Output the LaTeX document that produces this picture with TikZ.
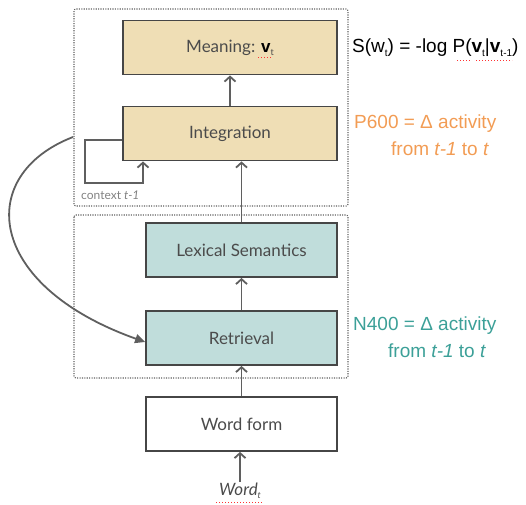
\documentclass[tikz,border=0pt]{standalone}
\usepackage{fontspec}
\setmainfont{Lato}
\newfontfamily\arial{Liberation Sans}
\usetikzlibrary{arrows.meta}
\definecolor{tanfill}{RGB}{239,222,181}
\definecolor{tealfill}{RGB}{192,221,219}
\definecolor{boxline}{RGB}{70,70,70}
\definecolor{txtgray}{RGB}{75,75,75}
\definecolor{arrgray}{RGB}{95,95,95}
\definecolor{dotgray}{RGB}{95,95,95}
\definecolor{orangetxt}{RGB}{242,156,84}
\definecolor{tealtxt}{RGB}{60,160,152}
\begin{document}
\begin{tikzpicture}[x=1pt,y=-1pt,
  box/.style={draw=boxline,line width=1.8pt,inner sep=0pt,minimum height=54pt,text=txtgray,font=\fontsize{17}{19}\selectfont},
  tanbox/.style={box,fill=tanfill,minimum width=214pt},
  tealbox/.style={box,fill=tealfill,minimum width=191pt},
  whitebox/.style={box,fill=white,minimum width=191pt},
  arr/.style={draw=arrgray,line width=1.8pt,-{Straight Barb[length=5pt,width=11pt,line width=1.8pt]}},
  dotbox/.style={draw=dotgray,line width=1.1pt,dash pattern=on 1.1pt off 1.3pt,rounded corners=2pt},
  squig/.style={draw=red!80,line width=1pt,dotted},
  righttxt/.style={anchor=west,inner sep=0pt,font=\arial\fontsize{19}{21}\selectfont}
]
\useasboundingbox (0,0) rectangle (526,504);

% dotted group boxes
\draw[dotbox] (74,9) rectangle (348,206);
\draw[dotbox] (74,215) rectangle (348,378);

% boxes
\node[tanbox] (meaning) at (230,47.5) {Meaning: {\arial\bfseries\color{black}v}\raisebox{-0.35ex}{\fontsize{9}{9}\selectfont t}};
\node[tanbox] (integ) at (230,133.5) {Integration};
\node[tealbox] (lex) at (241.5,250) {Lexical Semantics};
\node[tealbox] (ret) at (241.5,338) {Retrieval};
\node[whitebox] (wf) at (241.5,424) {Word form};
\node[inner sep=1pt,text=txtgray,font=\fontsize{17}{18}\selectfont] (word) at (240,491) {\textit{Word}\raisebox{-0.4ex}{\fontsize{9}{9}\selectfont\textit{t}}};

% arrows
\draw[arr] (integ.north) -- (meaning.south);
\draw[arr] (lex.north) -- (lex.north |- integ.south);
\draw[arr] (ret.north) -- (lex.south);
\draw[arr] (wf.north) -- (ret.south);
\draw[arr] (word.north) -- (word.north |- wf.south);

% context loop
\coordinate (ctxa) at (85,140);
\coordinate (ctxb) at (143,183);
\draw[arr] (integ.west |- ctxa) -- (ctxa) |- (ctxb) -- (ctxb |- integ.south);
\node[anchor=west,inner sep=0pt,text=txtgray!70,font=\fontsize{12}{13}\selectfont] (ctxlbl) at (81,195) {context \textit{t-1}};

% long curve
\coordinate (cstart) at (73,137);
\draw[draw=arrgray,line width=1.8pt,-{Triangle[length=10pt,width=9pt]}] (cstart) .. controls (-25,175) and (-15,285) .. (ret.west |- 0,342);

% right-hand texts
\node[righttxt] (surp) at (352,48) {S(w\raisebox{-0.4ex}{\fontsize{10}{10}\selectfont t}) = -log P(\textbf{v}\raisebox{-0.4ex}{\fontsize{10}{10}\selectfont t}|\textbf{v}\raisebox{-0.4ex}{\fontsize{10}{10}\selectfont t-1})};
\node[righttxt,text=orangetxt] (p6a) at (354,124) {P600 = Δ activity};
\node[righttxt,text=orangetxt] (p6b) at (391,149) {from \textit{t-1} to \textit{t}};
\node[righttxt,text=tealtxt] (n4a) at (353,326) {N400 = Δ activity};
\node[righttxt,text=tealtxt] (n4b) at (388,351) {from \textit{t-1} to \textit{t}};

% spell-check marks
\draw[squig] (258,57) -- (273,57);
\draw[squig] (216,502) -- (263,502);
\draw[squig] (457,60) -- (471,60);
\draw[squig] (476,60) -- (512,60);
\end{tikzpicture}
\end{document}
